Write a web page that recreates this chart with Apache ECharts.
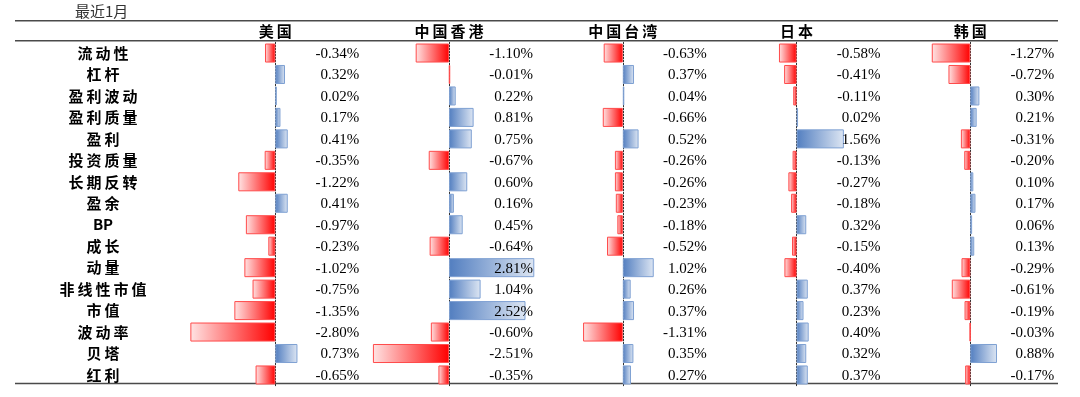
<!DOCTYPE html>
<html><head><meta charset="utf-8">
<script src="https://cdn.jsdelivr.net/npm/echarts@6/dist/echarts.min.js"></script>
<style>html,body{margin:0;padding:0;background:#fff}#c{width:1080px;height:397px}</style>
</head><body><div id="c"></div>
<script>
const titleText = '最近1月';
const categories = ['流动性','杠杆','盈利波动','盈利质量','盈利','投资质量','长期反转','盈余','BP','成长','动量','非线性市值','市值','波动率','贝塔','红利'];
const regions = ['美国','中国香港','中国台湾','日本','韩国'];
const usValues = [-0.34,0.32,0.02,0.17,0.41,-0.35,-1.22,0.41,-0.97,-0.23,-1.02,-0.75,-1.35,-2.80,0.73,-0.65];
const hkValues = [-1.10,-0.01,0.22,0.81,0.75,-0.67,0.60,0.16,0.45,-0.64,2.81,1.04,2.52,-0.60,-2.51,-0.35];
const twValues = [-0.63,0.37,0.04,-0.66,0.52,-0.26,-0.26,-0.23,-0.18,-0.52,1.02,0.26,0.37,-1.31,0.35,0.27];
const jpValues = [-0.58,-0.41,-0.11,0.02,1.56,-0.13,-0.27,-0.18,0.32,-0.15,-0.40,0.37,0.23,0.40,0.32,0.37];
const krValues = [-1.27,-0.72,0.30,0.21,-0.31,-0.20,0.10,0.17,0.06,0.13,-0.29,-0.61,-0.19,-0.03,0.88,-0.17];
const allValues = [usValues,hkValues,twValues,jpValues,krValues];

const chart = echarts.init(document.getElementById('c'), null, {renderer:'canvas'});
const zero0 = 275.3, step = 173.75, half = 91;
const gridTop = 42.3, gridHeight = 343.4;
const labelOffset = 84;
const catCenterX = 103;
const numFont = '15px "Liberation Serif", "Times New Roman", serif';
const cjkFont = '"Noto Sans CJK SC", sans-serif';
const spaced = s => /^[A-Za-z]+$/.test(s) ? s : s.split('').join('\u2009');

const grids = regions.map((r,i)=>({left: zero0 + step*i - half, width: 2*half, top: gridTop, height: gridHeight, containLabel:false, outerBoundsMode:'none'}));
const xAxes = regions.map((r,i)=>({type:'value', gridIndex:i, min:-3, max:3, show:false}));
const yAxes = regions.map((r,i)=>({
  type:'category', gridIndex:i, data:categories, inverse:true,
  axisLine:{show:true, onZero:true, lineStyle:{color:'#333', type:[1.5,1.5], width:1}},
  axisTick:{show:false}, splitLine:{show:false},
  axisLabel:{show:i===0, align:'center', margin: (zero0 - half) - catCenterX, color:'#000',
    fontFamily: cjkFont, fontWeight:'bold', fontSize:15, formatter: spaced}
}));

function renderBar(params, api){
  const v = api.value(0), idx = api.value(1);
  const p0 = api.coord([0, idx]);
  const p1 = api.coord([v, idx]);
  const h = api.size([0,1])[1]*0.84;
  const x = Math.min(p0[0], p1[0]);
  const w = Math.abs(p1[0]-p0[0]);
  let fill, stroke;
  if (v < 0) {
    fill = new echarts.graphic.LinearGradient(0,0,1,0,[{offset:0,color:'#FFE4E4'},{offset:1,color:'#FF0000'}]);
    stroke = '#FF4B4B';
  } else {
    fill = new echarts.graphic.LinearGradient(0,0,1,0,[{offset:0,color:'#527EC0'},{offset:1,color:'#DDE6F3'}]);
    stroke = '#7FA1D3';
  }
  return {type:'group', children:[
    {type:'rect', shape:{x:x+0.5, y:p0[1]-h/2, width:Math.max(w-1,0.5), height:h}, style:{fill:fill, stroke:stroke, lineWidth:1}},
    {type:'text', z2:10, style:{text: v.toFixed(2)+'%', x:p0[0]+labelOffset, y:p0[1]+1, align:'right', verticalAlign:'middle', font:numFont, fill:'#000'}}
  ]};
}

const series = allValues.map((vals,i)=>({
  type:'custom', xAxisIndex:i, yAxisIndex:i, renderItem:renderBar,
  encode:{x:0, y:1}, data: vals.map((v,j)=>[v,j]), silent:true, animation:false
}));

const lineStyle = {stroke:'#4a4a4a', lineWidth:1.5};
const graphics = [
  {type:'text', left:75, top:4, style:{text:titleText, font:'15px '+cjkFont, fill:'#333'}},
  {type:'line', shape:{x1:15,y1:20.7,x2:1058,y2:20.7}, style:lineStyle},
  {type:'line', shape:{x1:15,y1:40.7,x2:1058,y2:40.7}, style:lineStyle},
  {type:'line', shape:{x1:15,y1:383.5,x2:1058,y2:383.5}, style:lineStyle}
];
regions.forEach((r,i)=>{
  graphics.push({type:'text', x: zero0+step*i, y:31.5, style:{text:spaced(r), align:'center', verticalAlign:'middle', font:'bold 15px '+cjkFont, fill:'#000'}});
});

chart.setOption({
  animation:false,
  grid:grids, xAxis:xAxes, yAxis:yAxes, series:series, graphic:graphics
});
</script></body></html>
